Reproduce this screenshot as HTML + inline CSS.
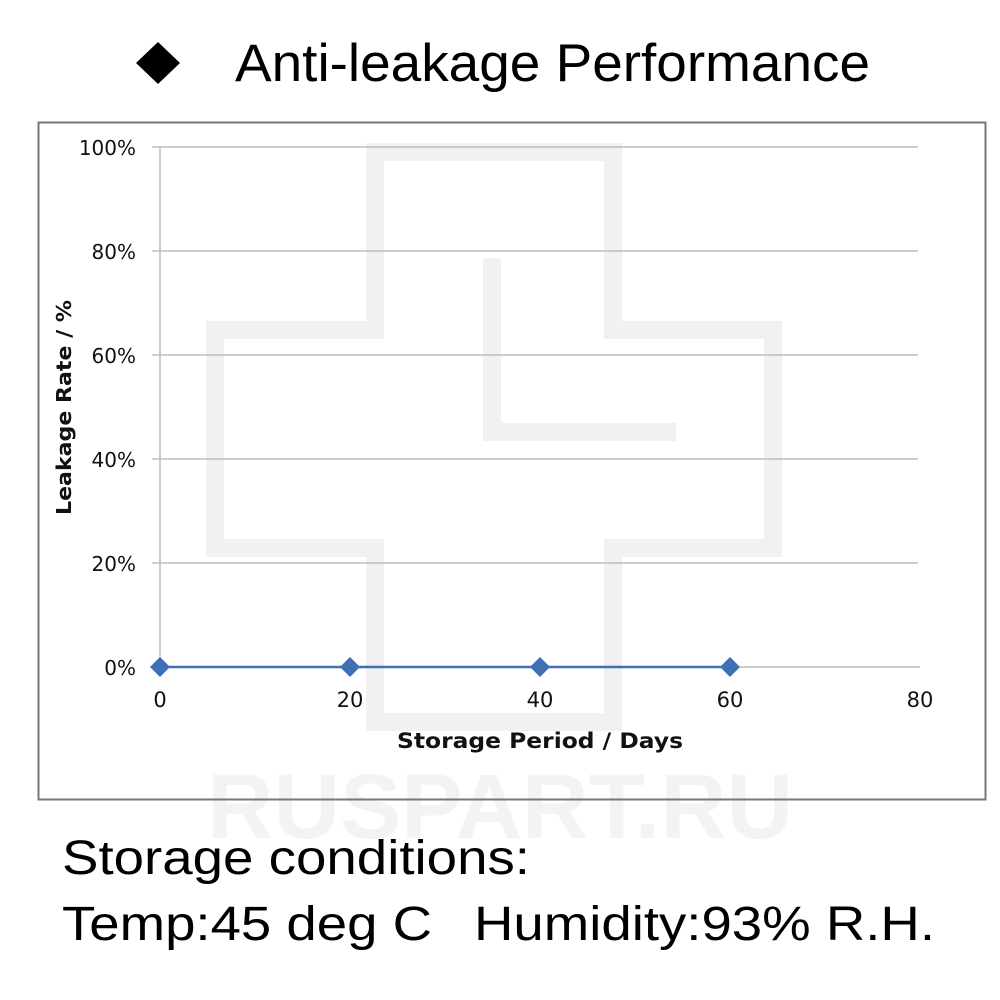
<!DOCTYPE html>
<html><head><meta charset="utf-8"><style>
html,body{margin:0;padding:0;background:#fff;width:1000px;height:1000px;overflow:hidden}
</style></head><body>
<svg width="1000" height="1000" viewBox="0 0 1000 1000" xmlns="http://www.w3.org/2000/svg">
<rect width="1000" height="1000" fill="#fff"/>
<!-- watermark -->
<g fill="none" stroke="#f1f1f1" stroke-width="18">
<path d="M375 152 H613 V330 H773 V548 H613 V722 H375 V548 H215 V330 H375 Z"/>
<path d="M492 258 V432 H676"/>
</g>
<text x="500" y="838" text-anchor="middle" font-family="Liberation Sans,sans-serif" font-weight="bold" font-size="92" fill="#f3f3f3">RUSPART.RU</text>
<!-- title -->
<path d="M158 42 L180 63 L158 84 L136 63 Z" fill="#000"/>
<text x="235" y="81" font-family="Liberation Sans,sans-serif" font-size="53" textLength="635" lengthAdjust="spacingAndGlyphs" fill="#000">Anti-leakage Performance</text>
<!-- frame -->
<rect x="38.5" y="122.5" width="947" height="677" fill="none" stroke="#777" stroke-width="2"/>
<!-- grid -->
<g stroke="#bdbdbd" stroke-width="1.5">
<line x1="152" y1="147" x2="918" y2="147"/>
<line x1="152" y1="251" x2="918" y2="251"/>
<line x1="152" y1="355" x2="918" y2="355"/>
<line x1="152" y1="459" x2="918" y2="459"/>
<line x1="152" y1="563" x2="918" y2="563"/>
<line x1="152" y1="667" x2="920" y2="667"/>
<line x1="160" y1="147" x2="160" y2="667"/>
</g>
<g font-family="DejaVu Sans,sans-serif" font-size="20" fill="#111" text-anchor="end">
<text x="136" y="155">100%</text>
<text x="136" y="259">80%</text>
<text x="136" y="363">60%</text>
<text x="136" y="467">40%</text>
<text x="136" y="571">20%</text>
<text x="136" y="675">0%</text>
</g>
<g font-family="DejaVu Sans,sans-serif" font-size="21" fill="#111" text-anchor="middle">
<text x="160" y="707">0</text>
<text x="350" y="707">20</text>
<text x="540" y="707">40</text>
<text x="730" y="707">60</text>
<text x="920" y="707">80</text>
</g>
<text x="397" y="748" textLength="286" lengthAdjust="spacingAndGlyphs" font-family="DejaVu Sans,sans-serif" font-weight="bold" font-size="21" fill="#111">Storage Period / Days</text>
<text transform="translate(71,515) rotate(-90)" textLength="215" lengthAdjust="spacingAndGlyphs" font-family="DejaVu Sans,sans-serif" font-weight="bold" font-size="20" fill="#111">Leakage Rate / %</text>
<!-- series -->
<line x1="160" y1="667" x2="730" y2="667" stroke="#3f6fb5" stroke-width="2.5"/>
<g fill="#3f6fb5">
<path d="M160 657 L170 667 L160 677 L150 667 Z"/>
<path d="M350 657 L360 667 L350 677 L340 667 Z"/>
<path d="M540 657 L550 667 L540 677 L530 667 Z"/>
<path d="M730 657 L740 667 L730 677 L720 667 Z"/>
</g>
<!-- bottom text -->
<g font-family="Liberation Sans,sans-serif" font-size="48" fill="#000">
<text x="62" y="874" textLength="468" lengthAdjust="spacingAndGlyphs">Storage conditions:</text>
<text x="62" y="940" textLength="370" lengthAdjust="spacingAndGlyphs">Temp:45 deg C</text>
<text x="474" y="940" textLength="461" lengthAdjust="spacingAndGlyphs">Humidity:93% R.H.</text>
</g>
</svg>
</body></html>
